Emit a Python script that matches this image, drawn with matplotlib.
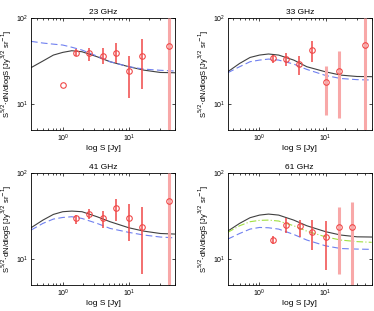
import numpy as np
import matplotlib
matplotlib.use("Agg")
import matplotlib.pyplot as plt

titles = ["23 GHz", "33 GHz", "41 GHz", "61 GHz"]

# data points (S [Jy], value, upper, lower)
s23 = [1.0, 1.58, 2.5, 4.0, 6.3, 10.0, 15.8, 40.0]
v23 = [16.8, 39.5, 39.0, 36.5, 39.5, 24.3, 36.3, 48.0]
hi23 = [16.8, 43.4, 44.6, 44.6, 51.0, 36.3, 57.4, 100.0]
lo23 = [16.8, 36.3, 31.8, 29.3, 29.8, 11.9, 15.2, 4.0]
pale23 = [False, False, False, False, False, False, False, True]

s33 = [1.58, 2.5, 4.0, 6.3, 10.0, 15.8, 40.0]
v33 = [34.1, 33.2, 29.0, 42.7, 18.1, 24.1, 48.4]
hi33 = [37.3, 39.1, 36.3, 54.4, 28.0, 41.6, 100.0]
lo33 = [30.4, 28.0, 21.8, 31.2, 7.4, 6.9, 4.0]
pale33 = [False, False, False, False, True, True, True]

s41 = [1.58, 2.5, 4.0, 6.3, 10.0, 15.8, 40.0]
v41 = [29.8, 33.2, 30.4, 39.0, 29.8, 23.8, 47.5]
hi41 = [32.6, 38.4, 36.7, 50.1, 43.4, 40.8, 100.0]
lo41 = [26.0, 29.3, 23.2, 28.0, 16.3, 6.8, 4.0]
pale41 = [False, False, False, False, False, False, True]

s61 = [1.58, 2.55, 4.06, 6.3, 10.0, 15.9, 25.2]
v61 = [16.8, 24.9, 24.1, 20.9, 17.9, 23.8, 23.8]
hi61 = [18.5, 29.8, 28.5, 28.5, 27.8, 40.8, 46.6]
lo61 = [15.2, 20.3, 18.3, 12.9, 7.4, 6.8, 4.0]
pale61 = [False, False, False, False, False, True, True]

# model curves
cx = [0.33, 0.5, 0.72, 1.0, 1.37, 1.95, 3.3, 5.2, 10.0, 16.9, 30.0, 50.0]
black23 = [26.6, 31.8, 37.3, 40.1, 41.9, 40.8, 35.7, 31.2, 27.3, 24.9, 23.4, 23.2]
blue23 = [53.9, 51.5, 50.0, 48.8, 46.0, 42.7, 36.3, 31.2, 27.3, 25.6, 24.8, 24.3]
black33 = [23.8, 29.8, 35.0, 37.3, 38.4, 37.3, 32.6, 27.3, 23.8, 21.8, 21.0, 20.9]
blue33 = [23.2, 27.3, 31.2, 32.6, 33.5, 32.6, 29.3, 25.4, 21.6, 19.9, 19.3, 19.1]
black41 = [23.2, 28.5, 33.2, 35.7, 36.3, 35.7, 31.2, 27.3, 23.2, 21.2, 19.9, 19.6]
blue41 = [21.8, 26.1, 29.3, 30.6, 31.2, 29.8, 26.1, 22.8, 20.5, 19.1, 18.1, 17.7]
black61 = [21.2, 26.1, 30.4, 32.6, 33.5, 32.6, 28.5, 24.5, 20.9, 19.1, 18.2, 18.1]
green61 = [20.5, 24.5, 27.3, 28.3, 28.5, 27.8, 24.5, 21.2, 18.2, 16.7, 16.0, 15.7]
blue61 = [17.1, 19.9, 22.4, 23.4, 23.2, 22.4, 19.4, 16.7, 14.3, 13.3, 13.1, 13.0]

panels = [
    (s23, v23, hi23, lo23, pale23, black23, blue23, None),
    (s33, v33, hi33, lo33, pale33, black33, blue33, None),
    (s41, v41, hi41, lo41, pale41, black41, blue41, None),
    (s61, v61, hi61, lo61, pale61, black61, blue61, green61),
]

W, H = 374, 311
fig = plt.figure(figsize=(W / 100, H / 100), dpi=100)
plt.rcParams['font.family'] = ['Liberation Sans', 'DejaVu Sans']

rects = [(31, 18.3), (227.7, 18.3), (31, 173.3), (227.7, 173.3)]
aw, ah = 144, 111.7

for i, (s, v, hi, lo, pale, blk, blu, grn) in enumerate(panels):
    x0, y0 = rects[i]
    ax = fig.add_axes([x0 / W, 1 - (y0 + ah) / H, aw / W, ah / H])
    ax.set_xscale('log')
    ax.set_yscale('log')
    ax.plot(cx, blk, color='#404040', lw=0.8, zorder=2)
    ax.plot(cx, blu, color='#7080f0', lw=0.8, ls=(0, (6, 3)), zorder=2)
    if grn is not None:
        ax.plot(cx, grn, color='#a0e040', lw=0.8, ls=(0, (6, 2, 1, 2)), zorder=2)
    for sx, vv, h, l, p in zip(s, v, hi, lo, pale):
        if h > vv or l < vv:
            if p:
                ax.plot([sx, sx], [l, h], color='#f8a8a8', lw=2.2, zorder=3,
                        solid_capstyle='butt')
            else:
                ax.plot([sx, sx], [l, h], color='#f04848', lw=1.1, zorder=3,
                        solid_capstyle='butt')
    ax.plot(s, v, 'o', mfc='none', mec='#f04848', mew=0.8, ms=4, zorder=4)
    ax.set_xlim(0.33, 50)
    ax.set_ylim(5, 100)
    ax.set_title(titles[i], fontsize=6, pad=3)
    ax.set_xlabel('log S [Jy]', fontsize=6, labelpad=1)
    ax.set_ylabel(r'S$^{5/2}$$\cdot$dN/dlogS [Jy$^{3/2}$ sr$^{-1}$]', fontsize=5.5, labelpad=1)
    ax.set_xticks([1, 10])
    ax.set_yticks([10, 100])
    ax.tick_params(which='both', direction='in', top=True, right=True,
                   labelsize=5, length=2.5, width=0.5, pad=2)
    ax.tick_params(which='minor', length=1.5)
    ax.yaxis.set_minor_locator(matplotlib.ticker.NullLocator())
    for sp in ax.spines.values():
        sp.set_linewidth(0.6)

fig.savefig('out.png', dpi=100)
